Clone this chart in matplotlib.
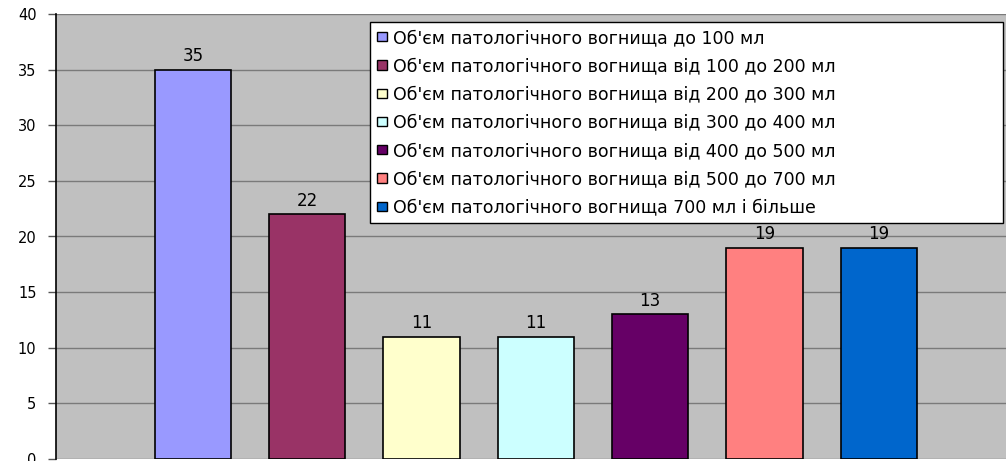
import matplotlib
matplotlib.use("Agg")
import matplotlib.pyplot as plt

# pathological focus volume groups
labels = [
    "Об'єм патологічного вогнища до 100 мл",
    "Об'єм патологічного вогнища від 100 до 200 мл",
    "Об'єм патологічного вогнища від 200 до 300 мл",
    "Об'єм патологічного вогнища від 300 до 400 мл",
    "Об'єм патологічного вогнища від 400 до 500 мл",
    "Об'єм патологічного вогнища від 500 до 700 мл",
    "Об'єм патологічного вогнища 700 мл і більше",
]
counts = [35, 22, 11, 11, 13, 19, 19]
colors = ["#9999FF", "#993366", "#FFFFCC", "#CCFFFF", "#660066", "#FF8080", "#0066CC"]
yticks = [0, 5, 10, 15, 20, 25, 30, 35, 40]

plt.rcParams["font.family"] = ["DejaVu Sans"]

W, H = 1006, 461
fig = plt.figure(figsize=(W / 100, H / 100), dpi=100)
fig.patch.set_facecolor("white")

# plot area runs past the right edge of the canvas
ax = fig.add_axes([56 / W, 2 / H, 1.0, 445 / H])
ax.set_facecolor("#C0C0C0")

unit = 114.3  # px per category
x0 = -(193 - 56) / unit
ax.set_xlim(x0, x0 + W / unit)
ax.set_ylim(0, 40)

ax.set_axisbelow(True)
ax.yaxis.grid(True, color="#7a7a7a", linewidth=1.0)
ax.set_yticks(yticks)
ax.set_xticks([])
ax.tick_params(axis="y", length=6, width=1, color="#555555", pad=8, labelsize=10.5)

for side in ["top", "right", "bottom"]:
    ax.spines[side].set_visible(False)
ax.spines["left"].set_color("black")
ax.spines["left"].set_linewidth(1.2)

for i, (val, col, lab) in enumerate(zip(counts, colors, labels)):
    bars = ax.bar(i, val, width=0.667, color=col, edgecolor="black",
                  linewidth=1.2, label=lab, zorder=3)
    ax.bar_label(bars, padding=3, fontsize=12, color="black", zorder=6)

leg = ax.legend(loc="upper left", mode="expand",
                bbox_to_anchor=(370 / W, 237 / H, 633 / W, 202 / H),
                bbox_transform=fig.transFigure, borderaxespad=0,
                fontsize=12.5, frameon=True, fancybox=False,
                handlelength=0.6, handleheight=0.45, handletextpad=0.3,
                labelspacing=0.59, borderpad=0.4)
leg.set_zorder(5)
leg.get_frame().set_edgecolor("black")
leg.get_frame().set_linewidth(1.0)
leg.get_frame().set_facecolor("white")
leg.get_frame().set_alpha(1)
for h in leg.legend_handles:
    h.set_linewidth(1.0)

fig.savefig("out.png", dpi=100)
